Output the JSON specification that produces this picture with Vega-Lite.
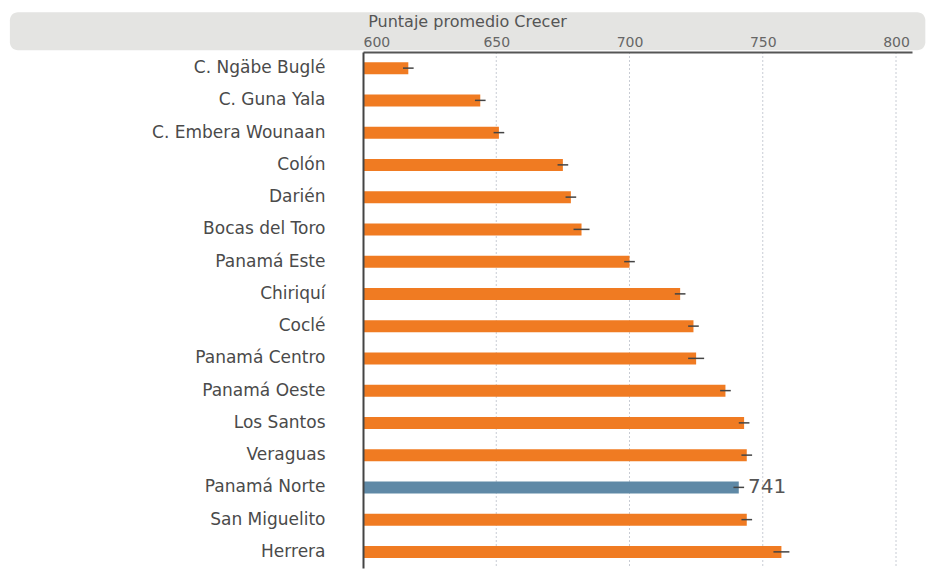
{
  "$schema": "https://vega.github.io/schema/vega-lite/v6.json",
  "autosize": {"type": "none"},
  "padding": {"left": 363, "top": 52, "right": 28, "bottom": 1},
  "width": 549,
  "height": 516,
  "background": "white",
  "config": {"view": {"stroke": null}, "font": "DejaVu Sans"},
  "datasets": {
    "scores": [
      {"region": "C. Ngäbe Buglé", "score": 617, "lo": 615, "hi": 619, "focus": "no"},
      {"region": "C. Guna Yala", "score": 644, "lo": 642, "hi": 646, "focus": "no"},
      {"region": "C. Embera Wounaan", "score": 651, "lo": 649, "hi": 653, "focus": "no"},
      {"region": "Colón", "score": 675, "lo": 673, "hi": 677, "focus": "no"},
      {"region": "Darién", "score": 678, "lo": 676, "hi": 680, "focus": "no"},
      {"region": "Bocas del Toro", "score": 682, "lo": 679, "hi": 685, "focus": "no"},
      {"region": "Panamá Este", "score": 700, "lo": 698, "hi": 702, "focus": "no"},
      {"region": "Chiriquí", "score": 719, "lo": 717, "hi": 721, "focus": "no"},
      {"region": "Coclé", "score": 724, "lo": 722, "hi": 726, "focus": "no"},
      {"region": "Panamá Centro", "score": 725, "lo": 722, "hi": 728, "focus": "no"},
      {"region": "Panamá Oeste", "score": 736, "lo": 734, "hi": 738, "focus": "no"},
      {"region": "Los Santos", "score": 743, "lo": 741, "hi": 745, "focus": "no"},
      {"region": "Veraguas", "score": 744, "lo": 742, "hi": 746, "focus": "no"},
      {"region": "Panamá Norte", "score": 741, "lo": 739, "hi": 743, "focus": "yes"},
      {"region": "San Miguelito", "score": 744, "lo": 742, "hi": 746, "focus": "no"},
      {"region": "Herrera", "score": 757, "lo": 754, "hi": 760, "focus": "no"}
    ],
    "header": [{"x1": 467.5, "x2": 811, "cat": "C. Ngäbe Buglé"}],
    "grid": [{"g": 650}, {"g": 700}, {"g": 750}, {"g": 800}]
  },
  "layer": [
    {
      "data": {"name": "header"},
      "mark": {"type": "rect", "color": "#e4e4e2", "cornerRadius": 8, "height": 38, "yOffset": -37},
      "encoding": {
        "x": {"field": "x1", "type": "quantitative"},
        "x2": {"field": "x2"},
        "y": {"field": "cat", "type": "nominal"}
      }
    },
    {
      "data": {"name": "grid"},
      "mark": {"type": "rule", "color": "#c8ccd4", "strokeDash": [2, 2], "strokeWidth": 1},
      "encoding": {"x": {"field": "g", "type": "quantitative"}}
    },
    {
      "data": {"name": "scores"},
      "mark": {"type": "bar", "size": 12},
      "encoding": {
        "y": {
          "field": "region", "type": "nominal",
          "scale": {"domain": ["C. Ngäbe Buglé", "C. Guna Yala", "C. Embera Wounaan", "Colón", "Darién", "Bocas del Toro", "Panamá Este", "Chiriquí", "Coclé", "Panamá Centro", "Panamá Oeste", "Los Santos", "Veraguas", "Panamá Norte", "San Miguelito", "Herrera"], "paddingInner": 0, "paddingOuter": 0},
          "axis": {"orient": "left", "title": null, "ticks": false, "domain": true, "domainColor": "#444", "domainWidth": 2, "labelFontSize": 17, "labelColor": "#4a4a4a", "labelPadding": 38, "labelFont": "DejaVu Sans", "zindex": 1}
        },
        "x": {
          "field": "score", "type": "quantitative",
          "scale": {"domain": [600, 806], "nice": false, "zero": false},
          "axis": {"orient": "top", "title": "Puntaje promedio Crecer", "values": [600, 650, 700, 750, 800], "grid": false, "ticks": false, "domainColor": "#555", "domainWidth": 2, "labelFontSize": 14, "labelColor": "#666", "labelPadding": 3, "titleFontSize": 16, "titleFontWeight": "normal", "titleColor": "#555", "titleX": 104, "titleY": -31, "titleAlign": "center", "titleBaseline": "middle", "zindex": 1}
        },
        "x2": {"datum": 600},
        "color": {"field": "focus", "type": "nominal", "scale": {"domain": ["no", "yes"], "range": ["#f07b22", "#5f89a6"]}, "legend": null}
      }
    },
    {
      "data": {"name": "scores"},
      "mark": {"type": "rule", "color": "#444", "strokeWidth": 1.5},
      "encoding": {
        "y": {"field": "region", "type": "nominal"},
        "x": {"field": "lo", "type": "quantitative"},
        "x2": {"field": "hi"}
      }
    },
    {
      "data": {"name": "scores"},
      "transform": [{"filter": "datum.focus === 'yes'"}],
      "mark": {"type": "text", "align": "left", "baseline": "middle", "dx": 4, "fontSize": 20, "color": "#555"},
      "encoding": {
        "y": {"field": "region", "type": "nominal"},
        "x": {"field": "hi", "type": "quantitative"},
        "text": {"field": "score", "type": "quantitative"}
      }
    }
  ]
}
